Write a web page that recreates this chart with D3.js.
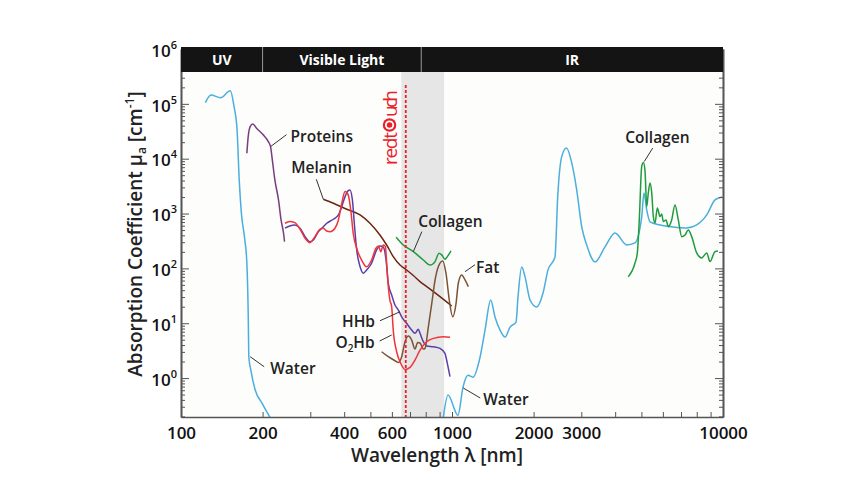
<!DOCTYPE html>
<html lang="en">
<head>
<meta charset="UTF-8">
<title>Absorption coefficient of tissue chromophores - D3</title>
<script src="https://d3js.org/d3.v7.min.js"></script>
<style>
  body { margin: 0; background: #fff; }
  svg { font-family: "Open Sans", sans-serif; display: block; font-weight: 600; }
  .axis path, .axis line { stroke: #555; }
  .note { font-size: 15.5px; fill: #222; }
</style>
</head>
<body>
<div id="chart"></div>
<script>
  // spectra, [wavelength nm, mu_a cm^-1]
  const waterUV = [[123,1.05e5],[129,1.45e5],[140,1.29e5],[152,1.73e5],[157,8.8e4],[161,3.4e4],[164,4100],[167,1030],[172,330],[175,125],[177,15],[178,2.4],[181,1.4],[188,0.6],[199,0.35],[216,0.17]];
  const waterIR = [[926,0.17],[967,0.49],[1052,0.21],[1098,0.685],[1146,1.13],[1195,1.04],[1269,2.4],[1324,7.5],[1389,26.5],[1441,13],[1504,7.5],[1569,5.6],[1637,8.5],[1723,10.5],[1752,30],[1808,106],[1860,70],[1941,26.5],[2054,19.8],[2167,35.6],[2261,94],[2399,161],[2455,2010],[2540,1.09e4],[2646,1.57e4],[2766,8380],[2885,2700],[3010,577],[3141,267],[3371,131],[3669,246],[3996,443],[4413,267],[4732,291],[5012,867],[5110,2376],[5230,1164],[5380,703],[5857,620],[6540,569],[7345,546],[7998,620],[8710,943],[9344,1770],[9915,2010]];
  const proteins = [[175,1.26e4],[177,2.53e4],[180,3.85e4],[184,4.3e4],[190,3.6e4],[201,2.72e4],[210,2.05e4],[214,1.66e4],[218,8280],[222,4100],[229,1770],[234,764],[239,437],[241,307]];
  const hhb = [[242,540],[252,594],[263,620],[275,540],[287,379],[299,307],[308,330],[321,467],[331,540],[345,665],[365,787],[381,943],[392,1336],[403,2033],[414,2618],[420,2697],[429,1770],[436,665],[445,217],[458,107],[471,81.5],[484,93.5],[505,124],[527,217],[542,256],[558,243],[571,142],[582,53.5],[599,32.7],[616,21.5],[634,17.4],[652,13.1],[680,9.96],[710,7.5],[730,6.54],[751,7.74],[762,6.54],[784,4.6],[807,3.84],[853,3.72],[903,3.48],[942,2.82],[961,1.85],[983,1.06]];
  const o2hb = [[242,665],[252,712],[263,682],[275,517],[287,354],[299,294],[312,379],[326,517],[335,540],[345,481],[355,467],[370,540],[381,764],[392,1541],[403,2510],[414,2183],[423,1164],[432,437],[447,217],[464,142],[484,107],[505,142],[524,233],[535,256],[546,202],[558,267],[568,249],[574,124],[582,46.4],[590,26.5],[599,20],[607,7.5],[625,3.02],[643,1.98],[671,1.44],[700,1.57],[730,2.13],[762,3.24],[807,4.6],[853,5.3],[929,5.67],[983,5.53]];
  const melanin = [[335,1824],[365,1541],[409,1198],[458,943],[498,665],[542,407],[574,267],[607,164],[643,115],[680,93.5],[720,74],[762,57.2],[807,46.4],[903,30.5],[998,20.6]];
  const collagenVis = [[622,370],[661,267],[720,202],[784,142],[830,115],[866,133],[895,189],[916,176],[942,147],[961,164],[992,208]];
  const fat = [[550,3.02],[582,2.45],[616,2.07],[634,1.92],[652,2.45],[671,4.6],[690,5.84],[710,4.93],[730,3.38],[747,4.44],[762,4.35],[784,3.38],[795,3.48],[818,8.6],[842,23],[866,61.4],[890,107],[924,136],[950,81.5],[977,26.5],[1006,13.1],[1035,23],[1055,53.5],[1086,75.8],[1117,61.4],[1149,46.4]];
  const collagenIR = [[4472,70.6],[4735,125],[4829,191],[4910,764],[5012,7180],[5082,8490],[5152,6250],[5230,1336],[5301,2376],[5380,3616],[5458,2376],[5533,879],[5612,673],[5724,1265],[5857,879],[5940,985],[6022,712],[6162,764],[6284,577],[6466,764],[6651,1436],[6841,764],[7040,379],[7241,407],[7447,502],[7665,379],[7998,191],[8346,155],[8709,191],[8954,133],[9344,202],[9583,208]];

  // spectral bands along the top, and the marked region / laser line
  const bands = [["UV",100,200],["Visible Light",200,770],["IR",770,10000]];
  const shaded = [650, 935];
  const laser = 675;

  // tick labels
  const xLabels = [100,200,400,600,1000,2000,3000,10000];
  const yExponents = [0,1,2,3,4,5,6];

  const colors = {
    water: "#4aaede", proteins: "#7a3b80", hhb: "#5c3ea8", o2hb: "#f0343c",
    melanin: "#6d2412", fat: "#7b5436", collagen: "#1f9c3e", red: "#e8202a"
  };

  const series = [
    [waterUV, colors.water], [waterIR, colors.water], [proteins, colors.proteins],
    [melanin, colors.melanin], [collagenVis, colors.collagen], [hhb, colors.hhb],
    [fat, colors.fat], [o2hb, colors.o2hb], [collagenIR, colors.collagen]
  ];

  // label text, point on the chart it points at, leader end and text offset (px)
  const notes = [
    {text: "Proteins", at: [214,1.66e4], end: [16,-12], pos: [20,-5], anchor: "start"},
    {text: "Melanin", at: [335,1824], end: [-7,-20], pos: [-32,-26], anchor: "start"},
    {text: "Collagen", at: [720,202], end: [8.5,-20], pos: [5,-25], anchor: "start"},
    {text: "Fat", at: [1117,87], end: [10,-7], pos: [11,1], anchor: "start"},
    {text: "HHb", at: [643,16.2], end: [-20,9], pos: [-25,15.5], anchor: "end"},
    {text: "O2Hb", at: [599,6.1], end: [-12,6], pos: [-17,13], anchor: "end"},
    {text: "Water", at: [180,2.45], end: [14,10], pos: [20,17], anchor: "start"},
    {text: "Water", at: [1100,0.66], end: [17,10], pos: [20,17.5], anchor: "start"},
    {text: "Collagen", at: [5120,8850], end: [8.5,-13.5], pos: [-19,-19], anchor: "start"}
  ];

  const W = 851, H = 490;
  const x0 = 181, x1 = 723, yBottom = 417, bandTop = 47, bandBottom = 72;

  const x = d3.scaleLog().domain([100, 10000]).range([x0, x1]);
  const y = d3.scaleLog().domain([0.195, 1e6]).range([yBottom, 49]);

  const svg = d3.select("#chart").append("svg")
    .attr("width", W).attr("height", H);

  // plot background + shaded window
  svg.append("rect").attr("x", x0).attr("y", bandBottom)
    .attr("width", x1 - x0).attr("height", yBottom - bandBottom).attr("fill", "#fdfdfb");
  svg.append("rect").attr("x", x(shaded[0])).attr("y", bandBottom)
    .attr("width", x(shaded[1]) - x(shaded[0])).attr("height", yBottom - bandBottom)
    .attr("fill", "#e6e6e6");

  svg.append("clipPath").attr("id", "clip").append("rect")
    .attr("x", x0).attr("y", bandBottom).attr("width", x1 - x0).attr("height", yBottom - bandBottom);

  const line = d3.line().x(d => x(d[0])).y(d => y(d[1])).curve(d3.curveMonotoneX);

  svg.append("g").attr("clip-path", "url(#clip)")
    .selectAll("path").data(series).join("path")
    .attr("d", d => line(d[0]))
    .attr("fill", "none")
    .attr("stroke", d => d[1])
    .attr("stroke-width", 1.5);

  // laser line
  svg.append("line")
    .attr("x1", x(laser)).attr("x2", x(laser)).attr("y1", 85).attr("y2", yBottom)
    .attr("stroke", colors.red).attr("stroke-width", 1.8).attr("stroke-dasharray", "3,2");

  // redtouch logo, written upwards
  const logo = svg.append("g").attr("transform", `translate(${x(laser) - 8.7},165) rotate(-90)`)
    .attr("font-weight", 400);
  logo.append("text").attr("font-size", 19).attr("fill", colors.red)
    .attr("textLength", 33).attr("lengthAdjust", "spacing").text("redt");
  logo.append("circle").attr("cx", 40).attr("cy", -7.5).attr("r", 6.8).attr("fill", colors.red);
  logo.append("circle").attr("cx", 40).attr("cy", -7.5).attr("r", 4.6).attr("fill", "#fff");
  logo.append("circle").attr("cx", 40).attr("cy", -7.5).attr("r", 2.8).attr("fill", colors.red);
  logo.append("text").attr("x", 48).attr("font-size", 19).attr("fill", colors.red)
    .attr("textLength", 27).attr("lengthAdjust", "spacing").text("uch");

  // ticks
  const xTicks = [];
  for (let e = 2; e < 4; e++) for (let k = 1; k <= 9; k++) xTicks.push(k * Math.pow(10, e));
  xTicks.push(10000);

  const yMajor = yExponents.map(e => Math.pow(10, e));
  const yMinor = [];
  for (let e = -1; e < 6; e++) for (let k = 2; k <= 9; k++) {
    const v = k * Math.pow(10, e);
    if (v >= 0.195) yMinor.push(v);
  }

  const styleAxis = g => {
    g.attr("font-family", null).attr("font-size", null);
    g.select(".domain").attr("stroke-width", 1.6);
    g.selectAll(".tick line").attr("stroke-width", 1);
  };

  svg.append("g").attr("class", "axis")
    .attr("transform", `translate(0,${yBottom})`)
    .call(d3.axisBottom(x).tickValues(xTicks).tickSize(-5).tickSizeOuter(0).tickPadding(9.5)
      .tickFormat(d => xLabels.includes(d) ? d : ""))
    .call(styleAxis)
    .selectAll("text").attr("font-size", 17).attr("fill", "#111");

  svg.append("g").attr("class", "axis")
    .attr("transform", `translate(${x0},0)`)
    .call(d3.axisLeft(y).tickValues(yMinor).tickSize(-4).tickSizeOuter(0).tickFormat(""))
    .call(styleAxis);

  const yAxis = svg.append("g").attr("class", "axis")
    .attr("transform", `translate(${x0},0)`)
    .call(d3.axisLeft(y).tickValues(yMajor).tickSize(-8).tickSizeOuter(0).tickPadding(4).tickFormat(""))
    .call(styleAxis);
  yAxis.selectAll(".tick text").attr("fill", "#111").attr("dy", "0.45em").each(function (d) {
    const t = d3.select(this);
    t.append("tspan").attr("font-size", 17).text("10");
    t.append("tspan").attr("font-size", 11).attr("dy", -8).text(Math.round(Math.log10(d)));
  });

  svg.append("g").attr("class", "axis")
    .attr("transform", `translate(${x1},0)`)
    .call(d3.axisRight(y).tickValues(yMinor).tickSize(-4).tickSizeOuter(0).tickFormat(""))
    .call(styleAxis);
  svg.append("g").attr("class", "axis")
    .attr("transform", `translate(${x1},0)`)
    .call(d3.axisRight(y).tickValues(yMajor).tickSize(-8).tickSizeOuter(0).tickFormat(""))
    .call(styleAxis);

  // black band with UV / Visible / IR
  svg.append("rect").attr("x", x0).attr("y", bandTop)
    .attr("width", x1 - x0).attr("height", bandBottom - bandTop).attr("fill", "#141414");
  svg.selectAll(".band-div").data(bands.slice(1)).join("line")
    .attr("x1", d => x(d[1])).attr("x2", d => x(d[1]))
    .attr("y1", bandTop).attr("y2", bandBottom)
    .attr("stroke", "#9a9a9a").attr("stroke-width", 1);
  svg.selectAll(".band-txt").data(bands).join("text")
    .attr("x", d => (x(d[1]) + x(d[2])) / 2).attr("y", bandTop + 18)
    .attr("text-anchor", "middle").attr("fill", "#fff")
    .attr("font-size", 14).attr("font-weight", 700)
    .text(d => d[0]);

  // leader lines and labels
  const ng = svg.append("g");
  notes.forEach(n => {
    const px = x(n.at[0]), py = y(n.at[1]);
    ng.append("line").attr("x1", px).attr("y1", py)
      .attr("x2", px + n.end[0]).attr("y2", py + n.end[1])
      .attr("stroke", "#333").attr("stroke-width", 1);
    const t = ng.append("text").attr("class", "note")
      .attr("x", px + n.pos[0]).attr("y", py + n.pos[1])
      .attr("text-anchor", n.anchor);
    if (n.text === "O2Hb") {
      t.append("tspan").text("O");
      t.append("tspan").attr("font-size", 10).attr("dy", 4).text("2");
      t.append("tspan").attr("dy", -4).text("Hb");
    } else {
      t.text(n.text);
    }
  });

  // axis titles
  svg.append("text")
    .attr("x", 437).attr("y", 462)
    .attr("text-anchor", "middle").attr("font-size", 19).attr("fill", "#222")
    .text("Wavelength λ [nm]");

  const yt = svg.append("text")
    .attr("transform", "translate(142,234) rotate(-90)")
    .attr("text-anchor", "middle").attr("font-size", 19).attr("fill", "#222");
  yt.append("tspan").text("Absorption Coefficient μ");
  yt.append("tspan").attr("font-size", 12).attr("dy", 4).text("a");
  yt.append("tspan").attr("dy", -4).text(" [cm");
  yt.append("tspan").attr("font-size", 12).attr("dy", -8).text("-1");
  yt.append("tspan").attr("dy", 8).text("]");
</script>
</body>
</html>
